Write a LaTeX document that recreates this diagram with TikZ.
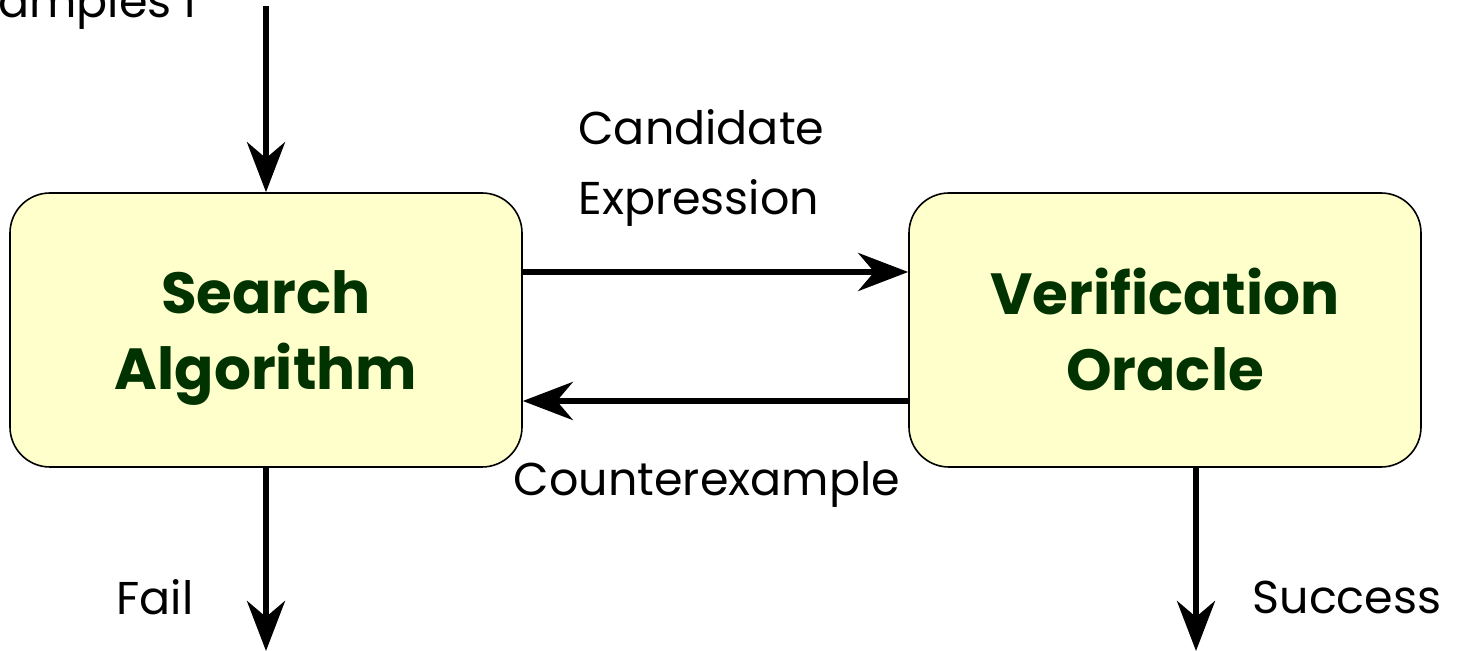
\documentclass[tikz,border=0pt]{standalone}
\usepackage{fontspec}
\setmainfont{Poppins}
\usetikzlibrary{arrows.meta}
\definecolor{boxfill}{HTML}{FFFFCC}
\definecolor{boxtext}{HTML}{003300}
\newcommand{\nodepth}[1]{\raisebox{0pt}[\height][0pt]{#1}}
\tikzset{
  procbox/.style={draw=black, line width=0.8pt, fill=boxfill, rounded corners=20pt,
    minimum width=256pt, minimum height=137pt, align=center, text=boxtext,
    font=\fontsize{29}{38}\selectfont\bfseries, inner sep=0pt},
  flow/.style={line width=3pt, -{Stealth[length=25pt,width=19pt,inset=8pt]}},
  lbl/.style={font=\fontsize{23}{35}\selectfont, inner sep=0pt}
}
\begin{document}
\begin{tikzpicture}[x=0.5pt,y=-0.5pt]
\useasboundingbox (0,0) rectangle (1461,651);
\clip (0,0) rectangle (1461,651);
\node[procbox] (search) at (266,330) {Search\\\nodepth{Algorithm}};
\node[procbox] (oracle) at (1165,330) {Verification\\Oracle};
\coordinate (in) at (266,6);
\coordinate (failend) at (266,651);
\coordinate (succend) at (1196,651);
\draw[flow] (in) -- (search.north);
\draw[flow] (search.east |- 0,272) -- (oracle.west |- 0,272);
\draw[flow] (oracle.west |- 0,401) -- (search.east |- 0,401);
\draw[flow] (search.south) -- (failend);
\draw[flow] (oracle.south -| succend) -- (succend);
\node[lbl, anchor=base west] (ex) at (-2,18) {amples I};
\node[lbl, anchor=west, align=left] (cand) at (578,168) {Candidate\\Expression};
\node[lbl] (cex) at (707,484) {Counterexample};
\node[lbl] (fail) at (155,597) {Fail};
\node[lbl] (succ) at (1347,597) {Success};
\end{tikzpicture}
\end{document}
